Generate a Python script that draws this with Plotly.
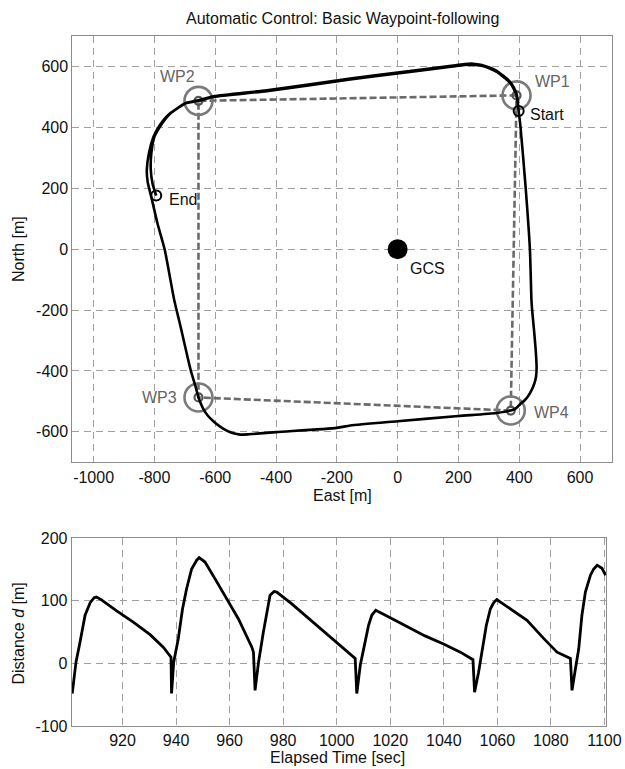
import plotly.graph_objects as go

# ---------------- data ----------------
wp_names = ["WP1", "WP2", "WP3", "WP4"]
wp_east = [391, -655, -655, 372]
wp_north = [505, 487, -487, -530]

route_east = [391, -655, -655, 372, 391]
route_north = [505, 487, -487, -530, 505]

gcs_east = [0]
gcs_north = [0]

start_east = [398]
start_north = [454]
end_east = [-794]
end_north = [176]

# flight track: lap 1 (Start -> around) then lap 2 (to End)
track_east = [
    398, 391, 380, 366, 347, 326, 303, 276, 248, 220, 190, 150, 0, -156, -430, -605, -655,
    -698, -726, -750, -770, -788, -803, -818, -825, -822, -815, -808, -790, -766, -735, -714,
    -681, -665, -655, -646, -638, -624, -606, -585, -562, -540, -518, -490, -400, -200, -156,
    0, 200, 325, 372, 390, 402, 417, 429, 440, 449, 455, 457, 454, 448, 442, 440, 435, 421,
    404, 398,
    392, 381, 367, 348, 327, 304, 277, 249, 221, 191, 151, 0, -156, -430, -605, -655,
    -696, -722, -746, -765, -783, -800, -810, -812, -806, -794,
]
track_north = [
    454, 505, 530, 550, 566, 582, 593, 602, 606, 605, 601, 596, 577, 557, 519, 500, 487,
    479, 462, 445, 424, 398, 369, 315, 260, 220, 190, 162, 85, -2, -166, -254,
    -396, -450, -487, -510, -527, -547, -565, -582, -596, -605, -609, -608, -601, -587, -579,
    -565, -548, -538, -530, -522, -510, -497, -483, -464, -443, -420, -390, -330, -260, -196, -166, 0, 202,
    402, 454,
    507, 533, 553, 569, 585, 596, 605, 609, 608, 604, 599, 580, 560, 522, 502, 489,
    480, 464, 447, 426, 400, 369, 315, 262, 215, 176,
]

time_s = [
    901.2, 902.6, 904.1, 906.0, 907.9, 909.4, 910.2, 912.0, 917.8, 924.0, 930.3, 935.2, 938.1,
    938.3, 939.1, 940.8, 942.4, 943.9, 945.8, 947.7, 948.6, 950.8, 955.0, 958.9, 963.3, 968.3,
    968.9, 969.5, 970.8, 972.6, 973.9, 975.1, 976.6, 977.6, 983.0, 988.2, 994.5, 1000.7, 1006.9,
    1007.5, 1008.8, 1010.6, 1011.9, 1013.1, 1014.6, 1020.0, 1027.5, 1033.0, 1039.9, 1046.2,
    1050.9, 1051.5, 1053.0, 1054.3, 1055.9, 1057.4, 1058.6, 1059.8, 1064.8, 1071.1, 1077.3,
    1082.3, 1087.3, 1087.9, 1089.2, 1090.4, 1091.6, 1092.9, 1094.8, 1096.0, 1097.3, 1099.1, 1100.5,
]
distance_d = [
    -48, 2, 34, 77, 97, 105, 106, 102, 84, 66, 46, 26, 10,
    -48, 2, 39, 87, 119, 151, 165, 169, 162, 132, 103, 71, 26,
    18, -43, 2, 50, 82, 109, 115, 114, 96, 77, 53, 31, 8,
    -48, -3, 34, 61, 77, 85, 73, 57, 44, 31, 18,
    6, -46, -14, 23, 61, 87, 97, 102, 87, 69, 40,
    18, 8, -43, -8, 23, 77, 114, 141, 151, 157, 152, 141,
]

east_ticks = [-1000, -800, -600, -400, -200, 0, 200, 400, 600]
north_ticks = [-600, -400, -200, 0, 200, 400, 600]
time_ticks = [920, 940, 960, 980, 1000, 1020, 1040, 1060, 1080, 1100]
dist_ticks = [-100, 0, 100, 200]

# ---------------- figure ----------------
W, H = 625, 769
FONT = "Liberation Sans, Arial, sans-serif"
GRID = "#a0a0a0"
WPC = "#7a7a7a"

fig = go.Figure()

# route (dashed)
fig.add_trace(go.Scatter(x=route_east, y=route_north, mode="lines",
                         line=dict(color="#6a6a6a", width=2.6, dash="7px,3px"),
                         xaxis="x", yaxis="y", hoverinfo="skip"))
# waypoint rings
fig.add_trace(go.Scatter(x=wp_east, y=wp_north, mode="markers",
                         marker=dict(symbol="circle-open", size=28, color=WPC, line=dict(width=2.6, color=WPC)),
                         xaxis="x", yaxis="y", hoverinfo="skip"))
fig.add_trace(go.Scatter(x=wp_east, y=wp_north, mode="markers",
                         marker=dict(symbol="circle-open", size=8, color="#555", line=dict(width=2.2, color="#555")),
                         xaxis="x", yaxis="y", hoverinfo="skip"))
# track
fig.add_trace(go.Scatter(x=track_east, y=track_north, mode="lines",
                         line=dict(color="black", width=2.6, shape="spline", smoothing=0.6),
                         xaxis="x", yaxis="y", hoverinfo="skip"))
# start / end
fig.add_trace(go.Scatter(x=start_east + end_east, y=start_north + end_north, mode="markers",
                         marker=dict(symbol="circle-open", size=10, color="black", line=dict(width=2, color="black")),
                         xaxis="x", yaxis="y", hoverinfo="skip"))
# GCS
fig.add_trace(go.Scatter(x=gcs_east, y=gcs_north, mode="markers",
                         marker=dict(symbol="circle", size=20, color="black"),
                         xaxis="x", yaxis="y", hoverinfo="skip"))

# distance series
fig.add_trace(go.Scatter(x=time_s, y=distance_d, mode="lines",
                         line=dict(color="black", width=2.8),
                         xaxis="x2", yaxis="y2", hoverinfo="skip"))

axis_common = dict(showgrid=True, gridcolor=GRID, gridwidth=1, griddash="7px,5px",
                   showline=True, linecolor="#8c8c8c", linewidth=1, mirror=True,
                   zeroline=False, ticks="", tickfont=dict(family=FONT, size=16, color="#111"),
                   automargin=False, fixedrange=True)

fig.update_layout(
    width=W, height=H,
    margin=dict(l=0, r=0, t=0, b=0, pad=0, autoexpand=False),
    paper_bgcolor="white", plot_bgcolor="white",
    showlegend=False,
    font=dict(family=FONT, size=16, color="#111"),
    xaxis=dict(domain=[72.3 / W, 612 / W], range=[-1070, 705], anchor="y",
               tickmode="array", tickvals=east_ticks, ticktext=[str(v) for v in east_ticks],
               **axis_common),
    yaxis=dict(domain=[(H - 462.3) / H, (H - 36) / H], range=[-700, 700], anchor="x",
               tickmode="array", tickvals=north_ticks, ticktext=[str(v) for v in north_ticks],
               **axis_common),
    xaxis2=dict(domain=[71.7 / W, 606 / W], range=[901, 1100.6], anchor="y2",
                tickmode="array", tickvals=time_ticks, ticktext=[str(v) for v in time_ticks],
                **axis_common),
    yaxis2=dict(domain=[(H - 726) / H, (H - 538.3) / H], range=[-100, 200], anchor="x2",
                tickmode="array", tickvals=dist_ticks, ticktext=[str(v) for v in dist_ticks],
                **axis_common),
)

ann = []
def paper_text(text, px, py, angle=0, size=16):
    ann.append(dict(text=text, x=px / W, y=(H - py) / H, xref="paper", yref="paper",
                    showarrow=False, textangle=angle, xanchor="center", yanchor="middle",
                    font=dict(family=FONT, size=size, color="#111")))

paper_text("Automatic Control: Basic Waypoint-following", 342, 18, size=16)
paper_text("East [m]", 342, 495)
paper_text("North [m]", 18, 249, angle=-90)
paper_text("Elapsed Time [sec]", 338, 757)
paper_text("Distance <i>d</i> [m]", 17.5, 634, angle=-90)

wp_shift = [(36, 14), (-21, 24), (-39, 0), (41, -2)]
for name, e, n, (dx, dy) in zip(wp_names, wp_east, wp_north, wp_shift):
    ann.append(dict(text=name, x=e, y=n, xref="x", yref="y", showarrow=False,
                    xshift=dx, yshift=dy, font=dict(family=FONT, size=16, color="#666")))
for label, e, n, dx, dy in [("Start", start_east[0], start_north[0], 28, -4),
                            ("End", end_east[0], end_north[0], 27, -4),
                            ("GCS", gcs_east[0], gcs_north[0], 30, -19)]:
    ann.append(dict(text=label, x=e, y=n, xref="x", yref="y", showarrow=False,
                    xshift=dx, yshift=dy, font=dict(family=FONT, size=16, color="#111")))

fig.update_layout(annotations=ann)
fig.write_html("out.html")
